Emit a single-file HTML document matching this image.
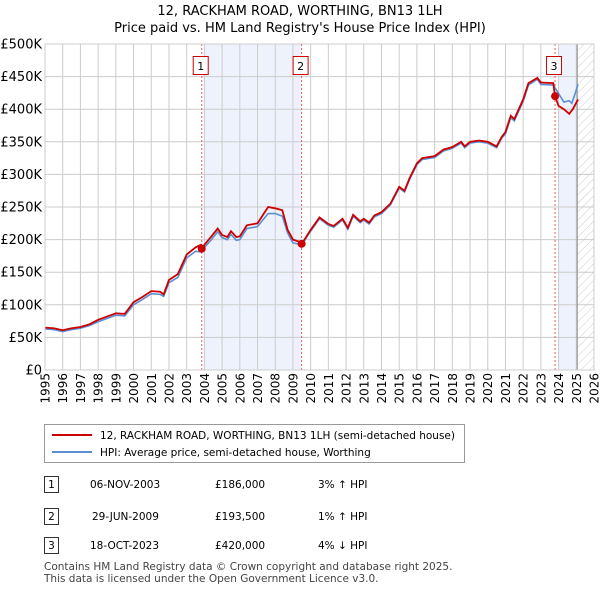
<!DOCTYPE html>
<html><head><meta charset="utf-8"><style>
body{margin:0;background:#fff;font-family:"DejaVu Sans","Liberation Sans",sans-serif;}
svg text{font-family:"DejaVu Sans","Liberation Sans",sans-serif;}
</style></head><body>
<svg id="c" width="600" height="590" xmlns="http://www.w3.org/2000/svg">
<defs><pattern id="h" width="6" height="6" patternUnits="userSpaceOnUse" patternTransform="rotate(45)"><line x1="0" y1="0" x2="0" y2="6" stroke="#ccc" stroke-width="1"/></pattern></defs>
<text x="300" y="15" text-anchor="middle" font-size="13">12, RACKHAM ROAD, WORTHING, BN13 1LH</text>
<text x="300" y="32" text-anchor="middle" font-size="13">Price paid vs. HM Land Registry's House Price Index (HPI)</text>
<g id="plot"></g>
<g>
<rect x="44.5" y="424.5" width="420" height="38" fill="#fff" stroke="#999"/>
<line x1="52" y1="435" x2="92" y2="435" stroke="#cc0000" stroke-width="2"/>
<text x="100" y="439" font-size="10.5">12, RACKHAM ROAD, WORTHING, BN13 1LH (semi-detached house)</text>
<line x1="52" y1="452" x2="92" y2="452" stroke="#5b8fd4" stroke-width="2"/>
<text x="100" y="456" font-size="10.5">HPI: Average price, semi-detached house, Worthing</text>
</g>
<g font-size="10.5">
<rect x="44.5" y="476.5" width="14" height="16" fill="#fff" stroke="#333"/><text x="51.5" y="488" text-anchor="middle">1</text>
<text x="90" y="488">06-NOV-2003</text><text x="215" y="488">£186,000</text><text x="318" y="488">3% ↑ HPI</text>
<rect x="44.5" y="508.5" width="14" height="16" fill="#fff" stroke="#333"/><text x="51.5" y="520" text-anchor="middle">2</text>
<text x="92" y="520">29-JUN-2009</text><text x="215" y="520">£193,500</text><text x="318" y="520">1% ↑ HPI</text>
<rect x="44.5" y="537.5" width="14" height="16" fill="#fff" stroke="#333"/><text x="51.5" y="549" text-anchor="middle">3</text>
<text x="90" y="549">18-OCT-2023</text><text x="215" y="549">£420,000</text><text x="318" y="549">4% ↓ HPI</text>
</g>
<text x="44" y="570" font-size="10.5" fill="#444">Contains HM Land Registry data © Crown copyright and database right 2025.</text>
<text x="44" y="582" font-size="10.5" fill="#444">This data is licensed under the Open Government Licence v3.0.</text>
</svg>
<script>
const hpiDates=[1995,1995.5,1996,1996.5,1997,1997.5,1998,1998.5,1999,1999.5,2000,2000.5,2001,2001.5,2001.7,2002,2002.5,2003,2003.5,2003.85,2004,2004.4,2004.75,2005,2005.3,2005.5,2005.8,2006,2006.4,2007,2007.6,2008,2008.4,2008.7,2009,2009.5,2010,2010.5,2011,2011.3,2011.8,2012.1,2012.4,2012.8,2013,2013.3,2013.6,2014,2014.5,2015,2015.3,2015.6,2016,2016.3,2017,2017.5,2018,2018.5,2018.7,2019,2019.5,2020,2020.5,2020.8,2021,2021.3,2021.5,2022,2022.3,2022.8,2023,2023.7,2024,2024.3,2024.6,2024.75,2025.1];
const hpiValues=[63,62,59,62,64,68,74,79,84,83,100,108,117,116,113,134,142,172,182,181,188,200,212,203,200,208,199,200,217,220,240,240,236,210,195,192,213,232,222,219,230,216,236,226,230,224,235,240,253,279,273,293,315,323,326,336,340,348,341,348,350,348,341,356,362,387,382,412,437,446,438,437,424,411,413,409,438];
const priceDates=[1995,1995.5,1996,1996.5,1997,1997.5,1998,1998.5,1999,1999.5,2000,2000.5,2001,2001.5,2001.7,2002,2002.5,2003,2003.5,2003.8,2003.85,2004,2004.4,2004.75,2005,2005.3,2005.5,2005.8,2006,2006.4,2007,2007.6,2008,2008.4,2008.7,2009,2009.45,2009.5,2010,2010.5,2011,2011.3,2011.8,2012.1,2012.4,2012.8,2013,2013.3,2013.6,2014,2014.5,2015,2015.3,2015.6,2016,2016.3,2017,2017.5,2018,2018.5,2018.7,2019,2019.5,2020,2020.5,2020.8,2021,2021.3,2021.5,2022,2022.3,2022.8,2023,2023.7,2023.8,2024,2024.3,2024.6,2024.8,2025.1];
const priceValues=[65,64,61,64,66,70,77,82,87,86,104,112,121,120,116,138,147,177,188,192,186,192,205,217,207,204,213,204,205,222,225,250,248,245,215,200,196,193.5,215,234,224,221,232,218,238,228,232,226,237,242,255,281,275,295,317,325,328,338,342,350,343,350,352,350,343,358,365,390,385,415,440,448,441,440,420,405,400,393,400,415];
const saleDates=[2003.85,2009.49,2023.8];
const saleValues=[186,193.5,420];
const yTicks=[0,50,100,150,200,250,300,350,400,450,500];
const yLabels=["£0","£50K","£100K","£150K","£200K","£250K","£300K","£350K","£400K","£450K","£500K"];
const xTicks=[1995,1996,1997,1998,1999,2000,2001,2002,2003,2004,2005,2006,2007,2008,2009,2010,2011,2012,2013,2014,2015,2016,2017,2018,2019,2020,2021,2022,2023,2024,2025,2026];
const L=45,R=594,T=44,B=370;
const x=d=>L+(d-1995)/31*(R-L);
const y=v=>B-v/500*(B-T);
const NS="http://www.w3.org/2000/svg";
const g=document.getElementById('plot');
function mk(t,a,p){const e=document.createElementNS(NS,t);for(const k in a)e.setAttribute(k,a[k]);(p||g).appendChild(e);return e;}
let e;
e=mk('rect',{x:x(saleDates[0])+2,y:T,width:x(saleDates[1])-x(saleDates[0])-2,height:B-T,fill:'#eef2fc'});


e=mk('rect',{x:x(2024),y:T,width:x(2025.05)-x(2024),height:B-T,fill:'#eef2fc'});


e=mk('rect',{x:x(2025.05),y:T,width:R-x(2025.05),height:B-T,fill:'url(#h)'});


yTicks.forEach((v,i)=>{
 e=mk('line',{x1:L,x2:R,y1:y(v),y2:y(v),stroke:'#ccc','stroke-width':1});
 
 
 e=mk('text',{x:L-3,y:y(v)+4.5,'text-anchor':'end','font-size':13});
 e.textContent=yLabels[i];
 
 
});
xTicks.forEach(d=>{
 e=mk('line',{x1:x(d),x2:x(d),y1:T,y2:B,stroke:'#ccc','stroke-width':1});
 
 
 e=mk('text',{x:0,y:0,'text-anchor':'end','font-size':12,transform:'translate('+(x(d)+4.5)+','+(B+3)+') rotate(-90)'});
 e.textContent=d;
 
 
});
e=mk('line',{x1:x(2025.05),x2:x(2025.05),y1:T,y2:B,stroke:'#888','stroke-width':1});


saleDates.forEach((d,i)=>{
 e=mk('line',{x1:x(d),x2:x(d),y1:T,y2:B,stroke:'#e06060','stroke-width':1,'stroke-dasharray':'2,2'});
 
 
 e=mk('rect',{x:x(d)-8.5,y:56.5,width:15,height:18,fill:'#fff',stroke:'#cc0000'});
 
 
 e=mk('text',{x:x(d)-1,y:70,'text-anchor':'middle','font-size':11});
 e.textContent=String(i+1);
 
 
});
e=mk('polyline',{points:hpiDates.map((d,i)=>x(d)+','+y(hpiValues[i])).join(' '),fill:'none',stroke:'#5b8fd4','stroke-width':1.6});


e=mk('polyline',{points:priceDates.map((d,i)=>x(d)+','+y(priceValues[i])).join(' '),fill:'none',stroke:'#cc0000','stroke-width':1.8});


saleDates.forEach((d,i)=>{
 e=mk('circle',{cx:x(d),cy:y(saleValues[i]),r:4,fill:'#cc0000'});
 
 
});
e=mk('rect',{x:L,y:T,width:R-L,height:B-T,fill:'none',stroke:'#ccc'});


</script>
</body></html>
